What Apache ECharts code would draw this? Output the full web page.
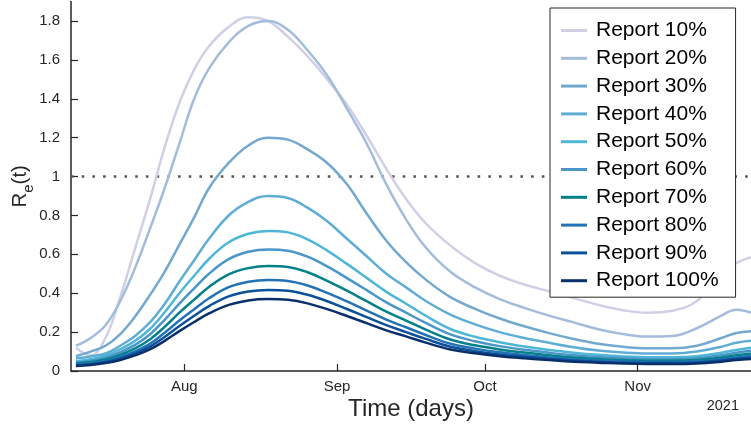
<!DOCTYPE html>
<html><head><meta charset="utf-8">
<script src="https://cdn.jsdelivr.net/npm/echarts@6/dist/echarts.min.js"></script>
<style>html,body{margin:0;padding:0;background:#fff}#c{width:751px;height:427px}</style>
</head><body><div id="c"></div>
<script>
// x values: days since 1 Jul 2021
const days = [9,12,15,18,21,24,27,30,33,36,40,44,48,52,56,60,64,68,72,76,80,85,90,95,100,105,110,115,120,125,130,135,140,143,146];
const seriesNames = ['Report 10%','Report 20%','Report 30%','Report 40%','Report 50%','Report 60%','Report 70%','Report 80%','Report 90%','Report 100%'];
const report10 = [0.12,0.08,0.17,0.38,0.63,0.88,1.15,1.38,1.55,1.67,1.77,1.82,1.80,1.72,1.62,1.50,1.37,1.21,1.04,0.885,0.76,0.645,0.555,0.49,0.445,0.41,0.375,0.34,0.313,0.30,0.31,0.36,0.50,0.555,0.585];
const report20 = [0.13,0.17,0.235,0.36,0.53,0.73,0.94,1.17,1.40,1.555,1.69,1.775,1.80,1.755,1.65,1.52,1.35,1.17,0.96,0.78,0.635,0.51,0.43,0.37,0.325,0.285,0.25,0.215,0.19,0.177,0.18,0.22,0.285,0.315,0.30];
const report30 = [0.077,0.10,0.13,0.19,0.28,0.39,0.51,0.65,0.79,0.94,1.07,1.16,1.20,1.19,1.14,1.07,0.96,0.81,0.67,0.56,0.47,0.38,0.32,0.27,0.23,0.195,0.165,0.14,0.125,0.117,0.117,0.13,0.17,0.195,0.205];
const report40 = [0.065,0.075,0.09,0.13,0.18,0.25,0.345,0.46,0.57,0.68,0.80,0.87,0.90,0.89,0.84,0.77,0.68,0.59,0.50,0.43,0.36,0.29,0.24,0.20,0.17,0.145,0.122,0.105,0.095,0.09,0.09,0.10,0.125,0.145,0.155];
const report50 = [0.050,0.061,0.079,0.112,0.155,0.216,0.302,0.400,0.490,0.576,0.662,0.706,0.720,0.713,0.677,0.619,0.551,0.479,0.407,0.346,0.284,0.216,0.176,0.148,0.126,0.108,0.094,0.083,0.075,0.071,0.071,0.076,0.094,0.108,0.120];
const report60 = [0.044,0.053,0.069,0.097,0.134,0.188,0.263,0.347,0.425,0.500,0.575,0.613,0.625,0.619,0.588,0.538,0.478,0.416,0.353,0.300,0.247,0.188,0.153,0.128,0.109,0.094,0.081,0.072,0.065,0.061,0.061,0.066,0.081,0.094,0.104];
const report70 = [0.038,0.046,0.059,0.084,0.116,0.162,0.227,0.300,0.367,0.432,0.497,0.529,0.540,0.535,0.508,0.464,0.413,0.359,0.305,0.259,0.213,0.162,0.132,0.111,0.095,0.081,0.070,0.062,0.056,0.053,0.053,0.057,0.070,0.081,0.090];
const report80 = [0.033,0.040,0.051,0.073,0.101,0.140,0.197,0.260,0.318,0.374,0.431,0.459,0.468,0.463,0.440,0.402,0.358,0.311,0.264,0.225,0.185,0.140,0.115,0.096,0.082,0.070,0.061,0.054,0.049,0.046,0.046,0.050,0.061,0.070,0.078];
const report90 = [0.029,0.035,0.046,0.065,0.090,0.125,0.175,0.231,0.284,0.334,0.384,0.409,0.417,0.413,0.392,0.359,0.319,0.277,0.236,0.200,0.165,0.125,0.102,0.085,0.073,0.063,0.054,0.048,0.043,0.041,0.041,0.044,0.054,0.063,0.070];
const report100 = [0.026,0.031,0.041,0.057,0.080,0.111,0.155,0.205,0.252,0.296,0.340,0.363,0.370,0.366,0.348,0.318,0.283,0.246,0.209,0.178,0.146,0.111,0.091,0.076,0.065,0.056,0.048,0.043,0.038,0.036,0.036,0.039,0.048,0.056,0.062];
const xTickDays = [31, 62, 92, 123];
const xTickLabels = ['Aug', 'Sep', 'Oct', 'Nov'];
const yTicks = [0, 0.2, 0.4, 0.6, 0.8, 1.0, 1.2, 1.4, 1.6, 1.8];
const yTickLabels = ['0', '0.2', '0.4', '0.6', '0.8', '1', '1.2', '1.4', '1.6', '1.8'];
const threshold = 1;
const yearLabel = '2021';
const xTitle = 'Time (days)';

const colors = ['#cfd0e6','#a3bcdc','#74a9cf','#5fadd5','#4eb7d8','#4a96c9','#02818a','#2372b6','#0b5199','#0a306b'];
const allValues = [report10,report20,report30,report40,report50,report60,report70,report80,report90,report100];
const FONT = 'Liberation Sans, Arial, Helvetica, sans-serif';
const AX = '#262626';

const chart = echarts.init(document.getElementById('c'), null, {renderer: 'canvas'});
const series = seriesNames.map((name, k) => ({
  name, type: 'line', smooth: 0.4, symbol: 'none', showSymbol: false,
  color: colors[k],
  lineStyle: {width: 2.5, color: colors[k]},
  data: days.map((d, i) => [d, allValues[k][i]]),
  z: 3,
  markLine: k === 0 ? {
    silent: true, symbol: ['none', 'none'], label: {show: false},
    lineStyle: {type: [2.6, 8.1], color: '#555555', width: 2.6, cap: 'butt'},
    data: [{yAxis: threshold}], z: 2
  } : undefined
}));

chart.setOption({
  animation: false,
  backgroundColor: '#fff',
  grid: {left: 71, right: 0, top: 1.6, bottom: 56, containLabel: false, outerBoundsMode: 'none'},
  xAxis: {
    type: 'value', min: 8, max: 146,
    name: xTitle, nameLocation: 'middle', nameGap: 26, nameMoveOverlap: false,
    nameTextStyle: {fontSize: 24, color: AX, fontFamily: FONT},
    axisLine: {show: true, lineStyle: {color: AX, width: 1.5}},
    axisTick: {show: true, inside: true, length: 7, lineStyle: {color: AX, width: 1.2}, customValues: xTickDays},
    axisLabel: {fontSize: 15, color: AX, fontFamily: FONT, margin: 8, customValues: xTickDays,
      formatter: v => { const i = xTickDays.indexOf(Math.round(v)); return i >= 0 ? xTickLabels[i] : ''; }},
    splitLine: {show: false}
  },
  yAxis: {
    type: 'value', min: 0, max: 1.9,
    name: '{r|R}{s|e}{r|(t)}', nameLocation: 'middle', nameGap: 35, nameRotate: 90, nameMoveOverlap: false,
    nameTextStyle: {rich: {
      r: {fontSize: 20.5, color: AX, fontFamily: FONT, verticalAlign: 'middle', lineHeight: 22},
      s: {fontSize: 15, color: AX, fontFamily: FONT, verticalAlign: 'bottom', lineHeight: 31}
    }},
    axisLine: {show: true, lineStyle: {color: AX, width: 1.5}},
    axisTick: {show: true, inside: true, length: 7, lineStyle: {color: AX, width: 1.2}, customValues: yTicks},
    axisLabel: {fontSize: 15, color: AX, fontFamily: FONT, margin: 11, customValues: yTicks,
      formatter: v => { const i = yTicks.findIndex(t => Math.abs(t - v) < 1e-6); return i >= 0 ? yTickLabels[i] : ''; }},
    splitLine: {show: false}
  },
  legend: {
    orient: 'vertical', left: 550, top: 8,
    padding: [12, 17, 6, 11], itemGap: 6.8, itemWidth: 26, itemHeight: 3, icon: 'rect',
    backgroundColor: '#fff', borderColor: AX, borderWidth: 1, borderRadius: 0,
    textStyle: {fontSize: 21, color: '#000', fontFamily: FONT, padding: [0, 0, 0, 4]},
    data: seriesNames, z: 10
  },
  graphic: [{
    type: 'text', right: 12, top: 398,
    style: {text: yearLabel, font: '14.5px ' + FONT, fill: AX}
  }],
  series
});
</script></body></html>
